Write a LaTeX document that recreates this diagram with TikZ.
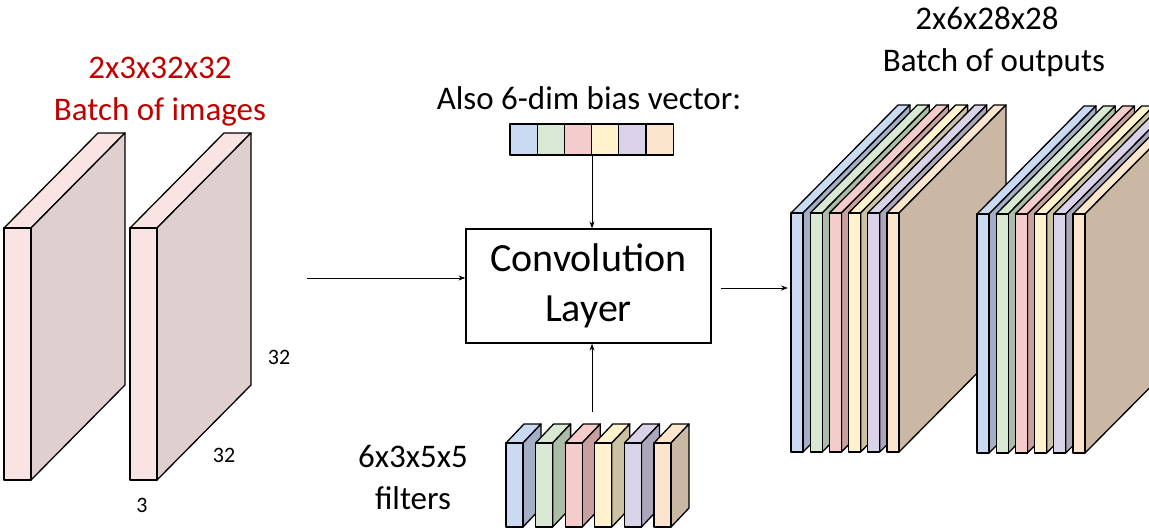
\documentclass[tikz,border=0pt]{standalone}
\usepackage{fontspec}
\setmainfont{Carlito}
\usetikzlibrary{arrows.meta}
\definecolor{tred}{HTML}{C00000}
\definecolor{pkF}{HTML}{F9E3E3}\definecolor{pkS}{HTML}{E0CFCF}
\definecolor{bF}{HTML}{C9DAF2}\definecolor{bS}{HTML}{A3AFC6}
\definecolor{gF}{HTML}{D9E8D3}\definecolor{gS}{HTML}{ABBDA6}
\definecolor{rF}{HTML}{F4CCCC}\definecolor{rS}{HTML}{C9A0A0}
\definecolor{yF}{HTML}{FFF2CC}\definecolor{yS}{HTML}{CBC1A3}
\definecolor{pF}{HTML}{D9D2E9}\definecolor{pS}{HTML}{ACA6BA}
\definecolor{oF}{HTML}{FCE5CD}\definecolor{oS}{HTML}{CAB8A4}
\newcommand{\myslab}[8]{% x y w h dx dy front side
  \draw[slab,fill=#7] (#1,#2) -- ++(#5,#6) -- ++(#3,0) -- ++(-#5,-#6) -- cycle;
  \draw[slab,fill=#8] (#1+#3,#2) -- ++(#5,#6) -- ++(0,#4) -- ++(-#5,-#6) -- cycle;
  \draw[slab,fill=#7] (#1,#2) rectangle ++(#3,#4);}
\begin{document}
\begin{tikzpicture}[x=1pt,y=-1pt,
  slab/.style={draw=black,line width=1.3pt,line join=round},
  arr/.style={-{Stealth[length=7pt,width=5pt]},line width=1pt},
  lbl/.style={inner sep=0pt,font=\fontsize{33}{36}\selectfont},
  sm/.style={inner sep=0pt,font=\fontsize{22}{24}\selectfont}]
\useasboundingbox (0,0) rectangle (1149,531);
% input images
\myslab{4}{228}{27}{252}{94}{-95}{pkF}{pkS}
\myslab{130}{228}{27}{252}{94}{-95}{pkF}{pkS}
\node[lbl,text=tred] (t1) at (160,68) {2x3x32x32};
\node[lbl,text=tred] (t2) at (160,112) {Batch of images};
\node[sm] (d1) at (279,357) {32};
\node[sm] (d2) at (224,455) {32};
\node[sm] (d3) at (142,505) {3};
% conv box
\node[draw,line width=1.2pt,minimum width=245pt,minimum height=114pt,inner sep=0pt,align=center,font=\fontsize{40}{50}\selectfont] (conv) at (588.5,286) {Convolution\\Layer};
\coordinate (inA) at (307,278);
\draw[arr] (inA) -- (conv.west|-inA);
% bias vector
\node[lbl] (bl) at (589,98) {Also 6-dim bias vector:};
\foreach \c [count=\i from 0] in {bF,gF,rF,yF,pF,oF}{
  \draw[slab,line width=1.2pt,fill=\c] (510+\i*27.2,124) rectangle ++(27.2,31);}
\coordinate (bv) at (592,155);
\draw[arr] (bv) -- (conv.north-|bv);
% filters
\foreach \c/\s [count=\i from 0] in {bF/bS,gF/gS,rF/rS,yF/yS,pF/pS,oF/oS}{
  \myslab{506+\i*29.6}{443}{17}{84}{18}{-19}{\c}{\s}}
\coordinate (fl) at (592,412);
\draw[arr] (fl) -- (conv.south-|fl);
\node[lbl] (f1) at (413,456) {6x3x5x5};
\node[lbl] (f2) at (413,498) {filters};
% outputs
\foreach \c/\s [count=\i from 0] in {bF/bS,gF/gS,rF/rS,yF/yS,pF/pS,oF/oS}{
  \myslab{791+\i*19.2}{213}{12}{239}{107}{-108}{\c}{\s}}
\foreach \c/\s [count=\i from 0] in {bF/bS,gF/gS,rF/rS,yF/yS,pF/pS,oF/oS}{
  \myslab{977+\i*19.2}{214}{12}{239}{107}{-108}{\c}{\s}}
\coordinate (oA) at (788,288);
\draw[arr] (conv.east|-oA) ++(9,0) -- (oA);
\node[lbl] (o1) at (987,18) {2x6x28x28};
\node[lbl] (o2) at (994,63) {Batch of outputs};
\end{tikzpicture}
\end{document}
